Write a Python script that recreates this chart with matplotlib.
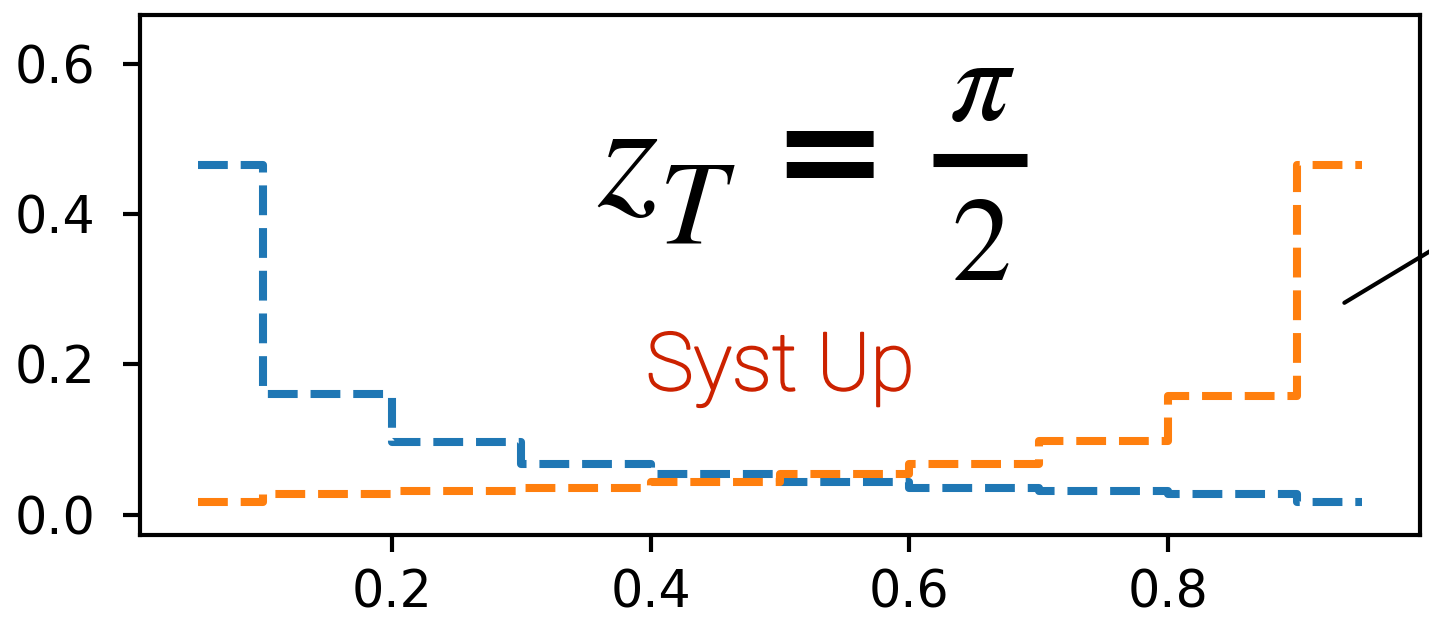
import matplotlib
matplotlib.use('Agg')
import matplotlib.pyplot as plt
import matplotlib.patheffects as pe
from matplotlib.lines import Line2D

# ビン中心と値（青は減少、オレンジはその鏡像）
bin_centers = [0.05, 0.15, 0.25, 0.35, 0.45, 0.55, 0.65, 0.75, 0.85, 0.95]
blue_vals = [0.465, 0.161, 0.097, 0.068, 0.054, 0.043, 0.036, 0.031, 0.028, 0.017]
orange_vals = [0.017, 0.028, 0.031, 0.036, 0.043, 0.054, 0.068, 0.098, 0.158, 0.465]

x_ticks = [0.2, 0.4, 0.6, 0.8]
y_ticks = [0.0, 0.2, 0.4, 0.6]

plt.rcParams['mathtext.fontset'] = 'stix'

W, H = 1429, 624
fig = plt.figure(figsize=(W / 100, H / 100), dpi=100)
ax = fig.add_axes([0.098, 0.1426, 0.8957, 0.8334])

ax.step(bin_centers, blue_vals, where='mid', ls='--', lw=5.8, color='#1f77b4')
ax.step(bin_centers, orange_vals, where='mid', ls='--', lw=5.8, color='#ff7f0e')

ax.set_ylim(-0.027, 0.665)
ax.set_xticks(x_ticks)
ax.set_yticks(y_ticks)
ax.tick_params(labelsize=36.5, length=12, width=3)
ax.tick_params(axis='x', pad=12)
ax.tick_params(axis='y', pad=20)
for s in ax.spines.values():
    s.set_linewidth(3)


# 画像上のピクセル位置（上から）を figure 座標へ
def fpos(x, y):
    return x / W, 1 - y / H


# z_T = pi/2 を部品ごとに置く
big = 86
fig.text(*fpos(628, 205), r'$z$', fontsize=112, ha='center', va='baseline')
fig.text(*fpos(697, 243), r'$T$', fontsize=big, ha='center', va='baseline')
fig.text(*fpos(829, 198), '=', fontsize=100, fontweight='bold',
         family='DejaVu Sans', ha='center', va='baseline')
fig.text(*fpos(982, 120), r'$\pi$', fontsize=big, ha='center', va='baseline')
fig.text(*fpos(980, 280), r'$2$', fontsize=big, ha='center', va='baseline')
x0, y0 = fpos(933, 159.5)
x1, _ = fpos(1027, 159.5)
fig.add_artist(Line2D([x0, x1], [y0, y0], lw=9.4, color='black',
                      solid_capstyle='butt'))

red = '#cc2200'
ax.text(0.5, 0.166, 'Syst Up', fontsize=58, color=red,
        family=['Roboto', 'DejaVu Sans'], fontweight='light',
        ha='center', va='baseline',
        path_effects=[pe.withStroke(linewidth=1.4, foreground=red)])

ax.annotate('', xy=(0.9365, 0.282), xytext=(1.06, 0.41),
            textcoords='data', annotation_clip=False,
            arrowprops=dict(arrowstyle='-', lw=3, color='black',
                            shrinkA=0, shrinkB=0))

fig.savefig('out.png', dpi=100)
